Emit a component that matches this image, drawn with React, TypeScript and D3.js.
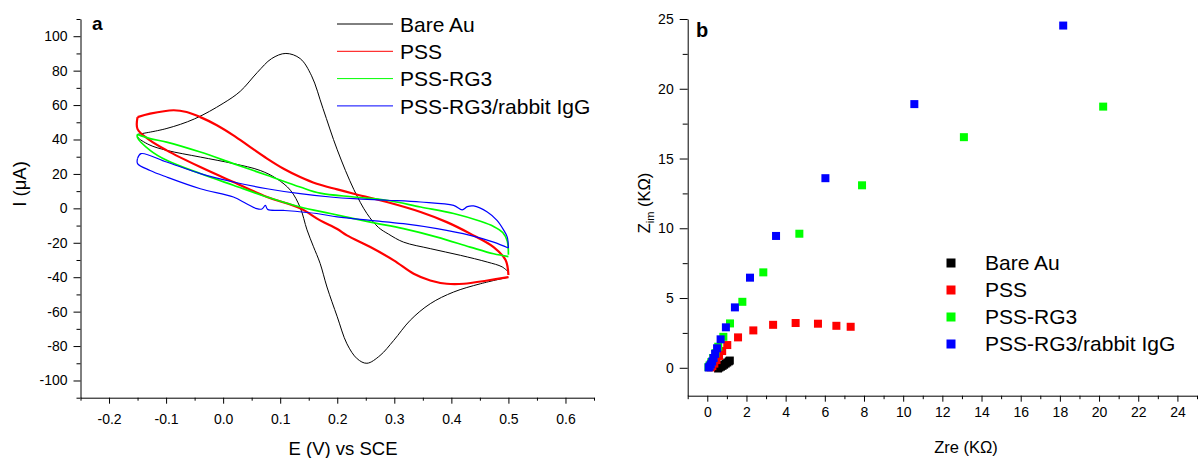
import React, { useEffect, useRef } from "react";
import * as d3 from "d3";

const FONT = "'Liberation Sans', Arial, Helvetica, sans-serif";

const seriesNames = ["Bare Au", "PSS", "PSS-RG3", "PSS-RG3/rabbit IgG"];
const seriesColors = ["#000000", "#ff0000", "#00ff00", "#0000ff"];
const cvStroke = [1, 2.2, 1.7, 1.2];

// panel a: cyclic voltammograms, [E (V vs SCE), I (uA)]
const bareAuForward = [
  [-0.15, 43], [-0.1, 46.3], [-0.05, 52], [0, 61], [0.03, 68], [0.06, 79], [0.085, 87],
  [0.11, 90], [0.135, 87], [0.155, 77], [0.175, 58], [0.2, 34], [0.229, 11], [0.252, -3],
  [0.272, -11], [0.29, -15], [0.316, -19.6], [0.363, -23.4], [0.416, -27.3], [0.463, -31.2],
  [0.489, -34], [0.5, -37],
];
const bareAuReverse = [
  [0.5, -40], [0.451, -43.8], [0.404, -48.6], [0.363, -55.4], [0.328, -65], [0.299, -76.7],
  [0.275, -85.5], [0.252, -90], [0.235, -87.4], [0.217, -78.7], [0.2, -63], [0.182, -45.7],
  [0.17, -32], [0.158, -22], [0.147, -12.5], [0.135, 0.5], [0.118, 10.5], [0.094, 17.2],
  [0.065, 22], [0.018, 26], [-0.04, 29.8], [-0.099, 33.7], [-0.13, 37], [-0.15, 41.5],
];
const pssForward = [
  [-0.15, 53], [-0.128, 55], [-0.087, 57], [-0.064, 56], [-0.04, 53], [-0.011, 48.3],
  [0.018, 42.4], [0.047, 35.7], [0.077, 28.9], [0.106, 23], [0.135, 18.2], [0.164, 14.3],
  [0.2, 11], [0.229, 8.5], [0.287, 3.7], [0.346, -2.1], [0.392, -8], [0.433, -14.7],
  [0.474, -22.5], [0.495, -30], [0.5, -38.7],
];
const pssReverse = [
  [0.5, -40], [0.463, -41.9], [0.422, -43.8], [0.392, -43.8], [0.363, -41.9], [0.334, -38],
  [0.299, -30.2], [0.258, -22.5], [0.217, -15.7], [0.2, -12], [0.17, -7], [0.135, 0],
  [0.077, 6.6], [0.018, 15.3], [-0.04, 24], [-0.099, 33.7], [-0.128, 39.5], [-0.15, 46],
];
const rg3Forward = [
  [-0.15, 43], [-0.128, 40.5], [-0.099, 38.5], [-0.04, 32.7], [0.018, 26], [0.077, 19.2],
  [0.135, 12.4], [0.17, 8.8], [0.229, 6.6], [0.287, 4.7], [0.346, 0.8], [0.404, -3],
  [0.451, -7.5], [0.474, -10.5], [0.49, -14], [0.498, -19], [0.5, -27],
];
const rg3Reverse = [
  [0.5, -28], [0.474, -26.4], [0.433, -22.5], [0.375, -16.7], [0.316, -11.8], [0.258, -8],
  [0.188, -3], [0.135, 0.8], [0.077, 6.6], [0.018, 13.4], [-0.04, 20.2], [-0.099, 27.9],
  [-0.128, 33.7], [-0.15, 41],
];
const iggForward = [
  [-0.15, 29], [-0.144, 31.8], [-0.099, 26.9], [-0.04, 20.2], [0.018, 15.3], [0.077, 11.4],
  [0.135, 8.5], [0.188, 6.6], [0.229, 5.6], [0.287, 4.7], [0.346, 3.7], [0.404, 1.7],
  [0.419, -0.9], [0.428, 1], [0.439, 1.4], [0.463, -2.1], [0.48, -7], [0.492, -12.8],
  [0.498, -16.7], [0.5, -23],
];
const iggReverse = [
  [0.5, -23], [0.474, -19.6], [0.433, -15.7], [0.375, -11.8], [0.316, -8.9], [0.258, -7],
  [0.2, -5], [0.164, -3], [0.106, -1.2], [0.078, -0.6], [0.074, 1.7], [0.068, -0.4],
  [0.059, -0.2], [0.041, 2.7], [0.018, 6.6], [-0.04, 11.4], [-0.099, 18.2], [-0.128, 22],
  [-0.15, 26],
];
const cvForward = [bareAuForward, pssForward, rg3Forward, iggForward];
const cvReverse = [bareAuReverse, pssReverse, rg3Reverse, iggReverse];

const potentialTicks = [-0.2, -0.1, 0, 0.1, 0.2, 0.3, 0.4, 0.5, 0.6];
const potentialMinor = [-0.25, -0.15, -0.05, 0.05, 0.15, 0.25, 0.35, 0.45, 0.55, 0.65];
const currentTicks = [-100, -80, -60, -40, -20, 0, 20, 40, 60, 80, 100];
const currentMinor = [-110, -90, -70, -50, -30, -10, 10, 30, 50, 70, 90, 110];

// panel b: Nyquist plots, [Zre (KOhm), Zim (KOhm)]
const bareAuNyquist = [
  [0.55, -0.05], [0.62, 0.02], [0.7, 0.08], [0.78, 0.14], [0.86, 0.22], [0.94, 0.3],
  [1.02, 0.38], [1.1, 0.46], [1.15, 0.52],
];
const pssNyquist = [
  [7.32, 2.94], [6.59, 3.01], [5.65, 3.16], [4.51, 3.21], [3.36, 3.08], [2.35, 2.68],
  [1.57, 2.18], [1.02, 1.63], [0.76, 1.2], [0.6, 0.85], [0.47, 0.55], [0.36, 0.3],
  [0.26, 0.12], [0.18, 0.03],
];
const rg3Nyquist = [
  [20.21, 18.72], [13.1, 16.53], [7.9, 13.08], [4.7, 9.61], [2.86, 6.84], [1.79, 4.73],
  [1.16, 3.18], [0.82, 2.22], [0.56, 1.51], [0.42, 1.05], [0.3, 0.7], [0.2, 0.4],
  [0.12, 0.18], [0.06, 0.05],
];
const iggNyquist = [
  [18.17, 24.53], [10.57, 18.9], [6.03, 13.59], [3.51, 9.45], [2.18, 6.46], [1.41, 4.33],
  [0.95, 2.9], [0.68, 2.04], [0.5, 1.4], [0.4, 1.0], [0.32, 0.7], [0.25, 0.45],
  [0.18, 0.25], [0.12, 0.1], [0.07, 0.02],
];
const nyquist = [bareAuNyquist, pssNyquist, rg3Nyquist, iggNyquist];

const zreTicks = [0, 2, 4, 6, 8, 10, 12, 14, 16, 18, 20, 22, 24];
const zreMinor = [-1, 1, 3, 5, 7, 9, 11, 13, 15, 17, 19, 21, 23, 25];
const zimTicks = [0, 5, 10, 15, 20, 25];
const zimMinor = [2.5, 7.5, 12.5, 17.5, 22.5];

export default function App() {
  const axesRef = useRef<SVGGElement>(null);

  const xA = d3.scaleLinear().domain([-0.25, 0.65]).range([80.5, 594]);
  const yA = d3.scaleLinear().domain([-110, 110]).range([397.7, 19]);
  const xB = d3.scaleLinear().domain([-1, 25]).range([687.7, 1197]);
  const yB = d3.scaleLinear().domain([-2, 25]).range([395.7, 19]);

  const cvLine = d3
    .line<number[]>()
    .x((d) => xA(d[0]))
    .y((d) => yA(d[1]))
    .curve(d3.curveCatmullRom.alpha(0.5));

  useEffect(() => {
    const root = d3.select(axesRef.current);
    root.selectAll("*").remove();

    // draws a major axis with labels plus an unlabeled minor one
    const put = (major: any, minor: any, tf: string) => {
      const gm = root.append("g").attr("transform", tf).call(minor);
      gm.select(".domain").remove();
      const g = root.append("g").attr("transform", tf).call(major);
      g.attr("font-family", FONT).attr("font-size", 14);
      g.selectAll("text").attr("fill", "#000");
      root.selectAll("line, path").attr("stroke", "#000");
    };

    put(
      d3.axisBottom(xA).tickValues(potentialTicks).tickSize(6).tickSizeOuter(0).tickPadding(10)
        .tickFormat((d: any) => (+d).toFixed(1)),
      d3.axisBottom(xA).tickValues(potentialMinor).tickSize(3).tickFormat(() => ""),
      "translate(0,397.7)"
    );
    put(
      d3.axisLeft(yA).tickValues(currentTicks).tickSize(7).tickSizeOuter(0).tickPadding(6)
        .tickFormat((d: any) => String(d)),
      d3.axisLeft(yA).tickValues(currentMinor).tickSize(4).tickFormat(() => ""),
      "translate(80.5,0)"
    );
    put(
      d3.axisBottom(xB).tickValues(zreTicks).tickSize(6).tickSizeOuter(0).tickPadding(5)
        .tickFormat((d: any) => String(d)),
      d3.axisBottom(xB).tickValues(zreMinor).tickSize(3.5).tickFormat(() => ""),
      "translate(0,395.7)"
    );
    put(
      d3.axisLeft(yB).tickValues(zimTicks).tickSize(8).tickSizeOuter(0).tickPadding(6)
        .tickFormat((d: any) => String(d)),
      d3.axisLeft(yB).tickValues(zimMinor).tickSize(5).tickFormat(() => ""),
      "translate(687.7,0)"
    );
  }, []);

  return (
    <svg
      width={1198}
      height={458}
      style={{ position: "absolute", left: 0, top: 0, background: "#fff" }}
      fontFamily={FONT}
    >
      {/* panel a curves */}
      {cvForward.map((fw, i) => (
        <g key={"cv" + i} fill="none" stroke={seriesColors[i]} strokeWidth={cvStroke[i]}>
          <path d={cvLine(fw) || ""} />
          <path d={cvLine(cvReverse[i].concat([fw[0]])) || ""} />
        </g>
      ))}

      {/* panel b markers */}
      {nyquist.map((pts, i) => (
        <g key={"nq" + i} fill={seriesColors[i]}>
          {pts.map((p, j) => (
            <rect key={j} x={xB(p[0]) - 4} y={yB(p[1]) - 4} width={8} height={8} />
          ))}
        </g>
      ))}

      <g ref={axesRef} />

      {/* panel letters */}
      <text x={92} y={30} fontSize={19} fontWeight="bold">a</text>
      <text x={696} y={36.5} fontSize={20} fontWeight="bold">b</text>

      {/* axis titles */}
      <text x={343} y={455} fontSize={18.5} textAnchor="middle">E (V) vs SCE</text>
      <text transform="translate(26,184) rotate(-90)" fontSize={18.5} textAnchor="middle">I (μA)</text>
      <text x={966} y={452.5} fontSize={16.5} textAnchor="middle">Zre (KΩ)</text>
      <text transform="translate(650,203) rotate(-90)" fontSize={16.5} textAnchor="middle">
        Z<tspan fontSize={11} dy={4}>im</tspan>
        <tspan dy={-4}> (KΩ)</tspan>
      </text>

      {/* legend a */}
      {seriesNames.map((name, i) => (
        <g key={"la" + i} transform={`translate(0,${24 + i * 27.3})`}>
          <line x1={337} x2={393} y1={0} y2={0} stroke={seriesColors[i]} strokeWidth={1} />
          <text x={400} y={7.6} fontSize={21}>{name}</text>
        </g>
      ))}

      {/* legend b */}
      {seriesNames.map((name, i) => (
        <g key={"lb" + i} transform={`translate(0,${263 + i * 27})`}>
          <rect x={946.5} y={-4.5} width={9} height={9} fill={seriesColors[i]} />
          <text x={985} y={7} fontSize={21}>{name}</text>
        </g>
      ))}
    </svg>
  );
}
